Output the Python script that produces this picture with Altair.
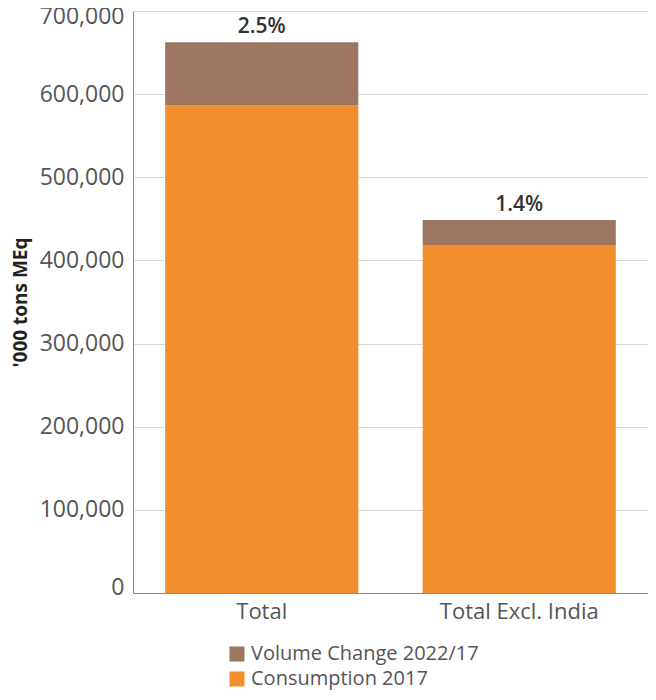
import altair as alt
import pandas as pd

categories = ["Total", "Total Excl. India"]
consumption_2017 = [586500, 418700]
volume_change = [76000, 29800]
growth_labels = ["2.5%", "1.4%"]
series_names = ["Volume Change 2022/17", "Consumption 2017"]
series_colors = ["#9C7660", "#F28E2B"]

rows = []
for c, base, chg in zip(categories, consumption_2017, volume_change):
    rows.append({"cat": c, "series": series_names[1], "value": base, "ord": 0})
    rows.append({"cat": c, "series": series_names[0], "value": chg, "ord": 1})
df = pd.DataFrame(rows)

lab = pd.DataFrame({
    "cat": categories,
    "total": [a + b for a, b in zip(consumption_2017, volume_change)],
    "label": growth_labels,
})

FONT = "Open Sans"

x = alt.X("cat:N", sort=categories, title=None,
          scale=alt.Scale(paddingInner=0.25, paddingOuter=0.125),
          axis=alt.Axis(labelAngle=0, labelFontSize=22, labelColor="#555555",
                        labelFont=FONT, labelPadding=8, ticks=False,
                        domainColor="#888888", grid=False))

bars = alt.Chart(df).mark_bar().encode(
    x=x,
    y=alt.Y("value:Q", stack="zero", title="'000 tons MEq",
            scale=alt.Scale(domain=[0, 700000], nice=False),
            axis=alt.Axis(values=[0, 100000, 200000, 300000, 400000, 500000, 600000, 700000],
                          format=",d", labelFontSize=23, labelColor="#555555",
                          labelFont=FONT, labelPadding=9, ticks=False,
                          labelFlush=True, labelFlushOffset=6, domainColor="#888888",
                          gridColor="#d9d9d9", titleFont=FONT, titleFontSize=19,
                          titleFontWeight="bold", titleColor="#222222",
                          titlePadding=9)),
    color=alt.Color("series:N", sort=series_names,
                    scale=alt.Scale(domain=series_names, range=series_colors),
                    legend=alt.Legend(title=None, orient="none", legendX=94, legendY=633,
                                      direction="vertical", symbolType="square",
                                      symbolSize=225, symbolStrokeWidth=0,
                                      labelFontSize=20, labelColor="#555555",
                                      labelFont=FONT, labelLimit=0, rowPadding=5,
                                      symbolOffset=0)),
    order=alt.Order("ord:Q"),
)

text = alt.Chart(lab).mark_text(baseline="bottom", dy=-5, fontSize=21,
                                font=FONT, fontWeight=600, color="#333333").encode(
    x=alt.X("cat:N", sort=categories),
    y=alt.Y("total:Q"),
    text="label:N",
)

chart = (bars + text).properties(
    width=515, height=582,
    autosize=alt.AutoSizeParams(type="none"),
    padding={"left": 125, "top": 3, "right": 0, "bottom": 99},
).configure_view(stroke=None)

chart.save("out.html", embed_options={"renderer": "svg", "actions": False})
